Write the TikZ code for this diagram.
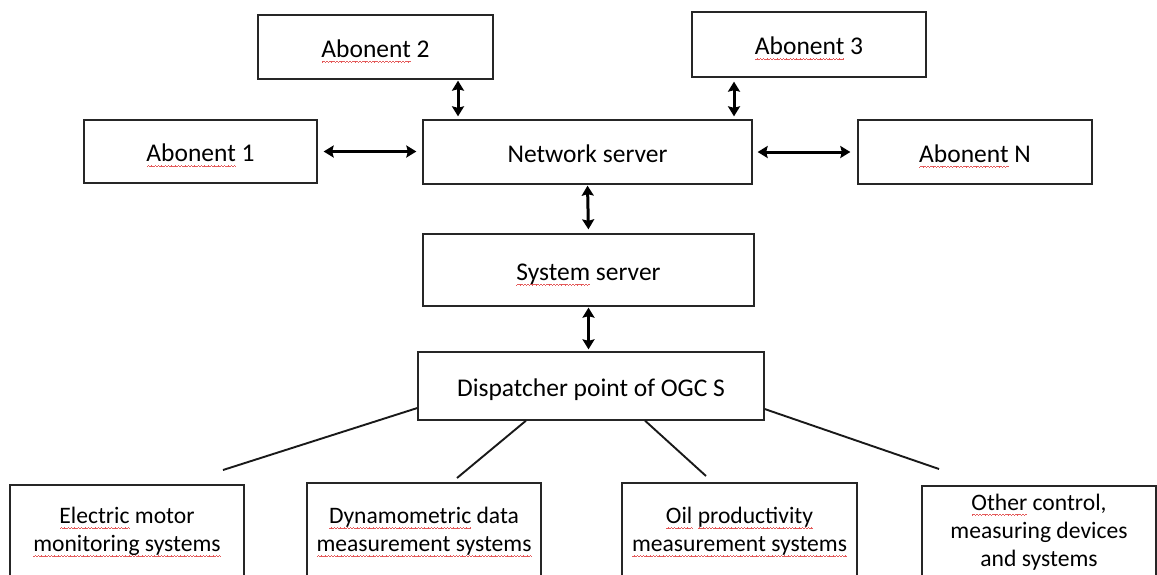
\documentclass[tikz,border=0pt]{standalone}
\usepackage{fontspec}
\setmainfont{Carlito}
\usetikzlibrary{arrows.meta}
\definecolor{squig}{RGB}{228,90,90}
\newsavebox\sqbox
\newcommand\wvunit{\hbox{\rule[0pt]{0.8pt}{0.8pt}\rule[0.6pt]{0.8pt}{0.8pt}\rule[1.2pt]{0.8pt}{0.8pt}\rule[0.6pt]{0.8pt}{0.8pt}}}
\newcommand\sqw[1]{\sbox\sqbox{#1}\leavevmode\rlap{\lower5.5pt\hbox to\wd\sqbox{\color{squig}\xleaders\wvunit\hfill}}\usebox\sqbox}
\tikzset{
  box/.style={draw=black!85, line width=1.3pt, rectangle, inner sep=0pt, align=center,
    font=\fontsize{25.5}{28}\selectfont},
  topbox/.style={box, text height=21pt, text depth=1pt},
  lowbox/.style={box, font=\fontsize{23.6}{28}\selectfont},
  biarrow/.style={line width=3pt,
    {Stealth[length=10pt,width=12pt,inset=1.5pt]}-{Stealth[length=10pt,width=12pt,inset=1.5pt]}},
  link/.style={line width=1.9pt, draw=black!90},
}
\begin{document}
\begin{tikzpicture}[x=1pt,y=-1pt]
\clip (0,0) rectangle (1157,574);
\fill[white] (0,0) rectangle (1157,574);
% top row
\node[topbox, minimum width=235pt, minimum height=64pt] (ab2) at (375.5,47) {\sqw{Abonent} 2};
\node[topbox, minimum width=234pt, minimum height=65pt] (ab3) at (809,44.5) {\sqw{Abonent} 3};
\node[topbox, minimum width=233pt, minimum height=63pt] (ab1) at (200.5,151.5) {\sqw{Abonent} 1};
\node[topbox, minimum width=329pt, minimum height=64pt] (ns) at (587.5,152) {Network server};
\node[topbox, minimum width=234pt, minimum height=64pt] (abN) at (975,152) {\sqw{Abonent} N};
\node[topbox, minimum width=331pt, minimum height=72pt] (ss) at (588.5,270) {\sqw{System} server};
\node[topbox, minimum width=346pt, minimum height=68pt] (disp) at (591,386) {Dispatcher point of OGC S};
% bottom row
\node[lowbox, minimum width=234pt, minimum height=94pt] (b1) at (127,532)
  {\sqw{Electric} motor\\\sqw{monitoring systems}};
\node[lowbox, minimum width=234pt, minimum height=98pt] (b2) at (424,532)
  {\sqw{Dynamometric} data\\\sqw{measurement systems}};
\node[lowbox, minimum width=235pt, minimum height=98pt] (b3) at (739.5,532)
  {\sqw{Oil} \sqw{productivity}\\\sqw{measurement systems}};
\node[lowbox, minimum width=234pt, minimum height=92pt] (b4) at (1039,532)
  {\sqw{Other} control,\\measuring devices\\and systems};
% arrow columns
\coordinate (c2) at (458,0);
\coordinate (c3) at (734,0);
\draw[biarrow, shorten <=1pt, shorten >=3pt] (ab2.south -| c2) -- (ns.north -| c2);
\draw[biarrow, shorten <=4pt, shorten >=3pt] (ab3.south -| c3) -- (ns.north -| c3);
\draw[biarrow, shorten <=6pt, shorten >=6pt] (ab1.east) -- (ns.west |- ab1.east);
\draw[biarrow, shorten <=5pt, shorten >=7pt] (ns.east |- abN.west) -- (abN.west);
\draw[biarrow, shorten <=1pt, shorten >=4pt] (ns.south) -- (ss.north);
\draw[biarrow, shorten <=1pt, shorten >=2pt] (ss.south) -- (disp.north -| ss.south);
% lines to subsystems
\coordinate (e1) at (223,470);
\coordinate (e2) at (457,478);
\coordinate (e3) at (706,476);
\coordinate (e4) at (939,469);
\coordinate (s2) at (526,0);
\coordinate (s3) at (645,0);
\draw[link] (disp.west |- 0,408) -- (e1);
\draw[link] (disp.south -| s2) -- (e2);
\draw[link] (disp.south -| s3) -- (e3);
\draw[link] (disp.east |- 0,409) -- (e4);
\end{tikzpicture}
\end{document}
